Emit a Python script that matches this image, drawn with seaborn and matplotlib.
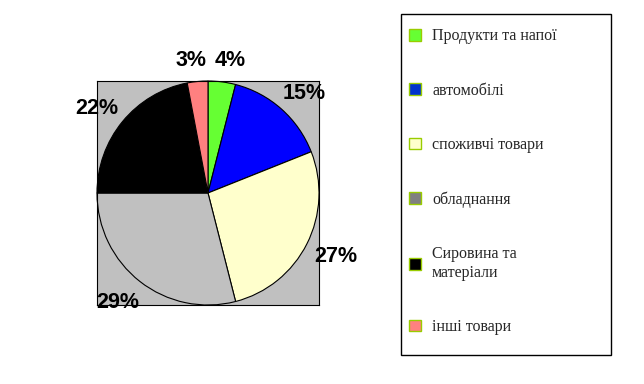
import matplotlib
matplotlib.use("Agg")
import numpy as np
import matplotlib.pyplot as plt
from matplotlib.patches import Patch, Rectangle
import seaborn as sns

# import structure (share of total, %)
categories = ["Продукти та напої", "автомобілі", "споживчі товари",
              "обладнання", "Сировина та\nматеріали", "інші товари"]
shares = [4, 15, 27, 29, 22, 3]
pie_colors = ["#66ff33", "#0000ff", "#ffffcc", "#c0c0c0", "#000000", "#ff8080"]
legend_colors = ["#66ff33", "#0033cc", "#ffffcc", "#808080", "#000000", "#ff8080"]

sns.set_style("white")
plt.rcParams["font.family"] = ["Liberation Sans", "DejaVu Sans"]

fig = plt.figure(figsize=(6.44, 3.84), dpi=100)
W, H = 644, 384

# plot area (grey square behind pie)
ax = fig.add_axes([97 / W, (H - 305) / H, 222 / W, 224 / H])
ax.set_facecolor("#c0c0c0")
wedges, texts = ax.pie(
    shares, colors=pie_colors, startangle=90, counterclock=False,
    labels=[f"{v}%" for v in shares],
    wedgeprops=dict(edgecolor="black", linewidth=0.8),
    textprops=dict(fontsize=15.5, fontweight="bold", color="black"),
    frame=True,
)
# put labels just outside the rim, pushed out by about half the text box
for w, t in zip(wedges, texts):
    a = np.deg2rad((w.theta1 + w.theta2) / 2)
    c, s = np.cos(a), np.sin(a)
    dx = 0.16 * np.sign(c) * np.sqrt(abs(c))
    dy = (0.07 if s > 0 else 0.12) * s
    t.set_position((1.12 * c + dx, 1.12 * s + dy))
    t.set_ha("center")
    t.set_va("center")
    t.set_clip_on(False)
ax.set_xlim(-1.0, 1.0)
ax.set_ylim(-1.0, 1.0)
ax.set_aspect("auto")
ax.set_xticks([])
ax.set_yticks([])
for s in ax.spines.values():
    s.set_color("black")
    s.set_linewidth(0.8)

# legend box
fig.patches.append(Rectangle((401 / W, (H - 355) / H), 210 / W, 341 / H,
                             transform=fig.transFigure, fill=False,
                             edgecolor="black", linewidth=1))
handles = [Patch(facecolor=c, edgecolor="#99cc00", linewidth=1) for c in legend_colors]
fig.legend(handles, categories, loc="upper left",
           bbox_to_anchor=(402.5 / W, 1 - 22 / H), frameon=False,
           prop=dict(family=["Liberation Serif", "DejaVu Serif"], size=11.5),
           handlelength=0.75, handleheight=0.75, handletextpad=0.7,
           labelspacing=2.4, borderaxespad=0)

fig.savefig("out.png", dpi=100, facecolor="white")
